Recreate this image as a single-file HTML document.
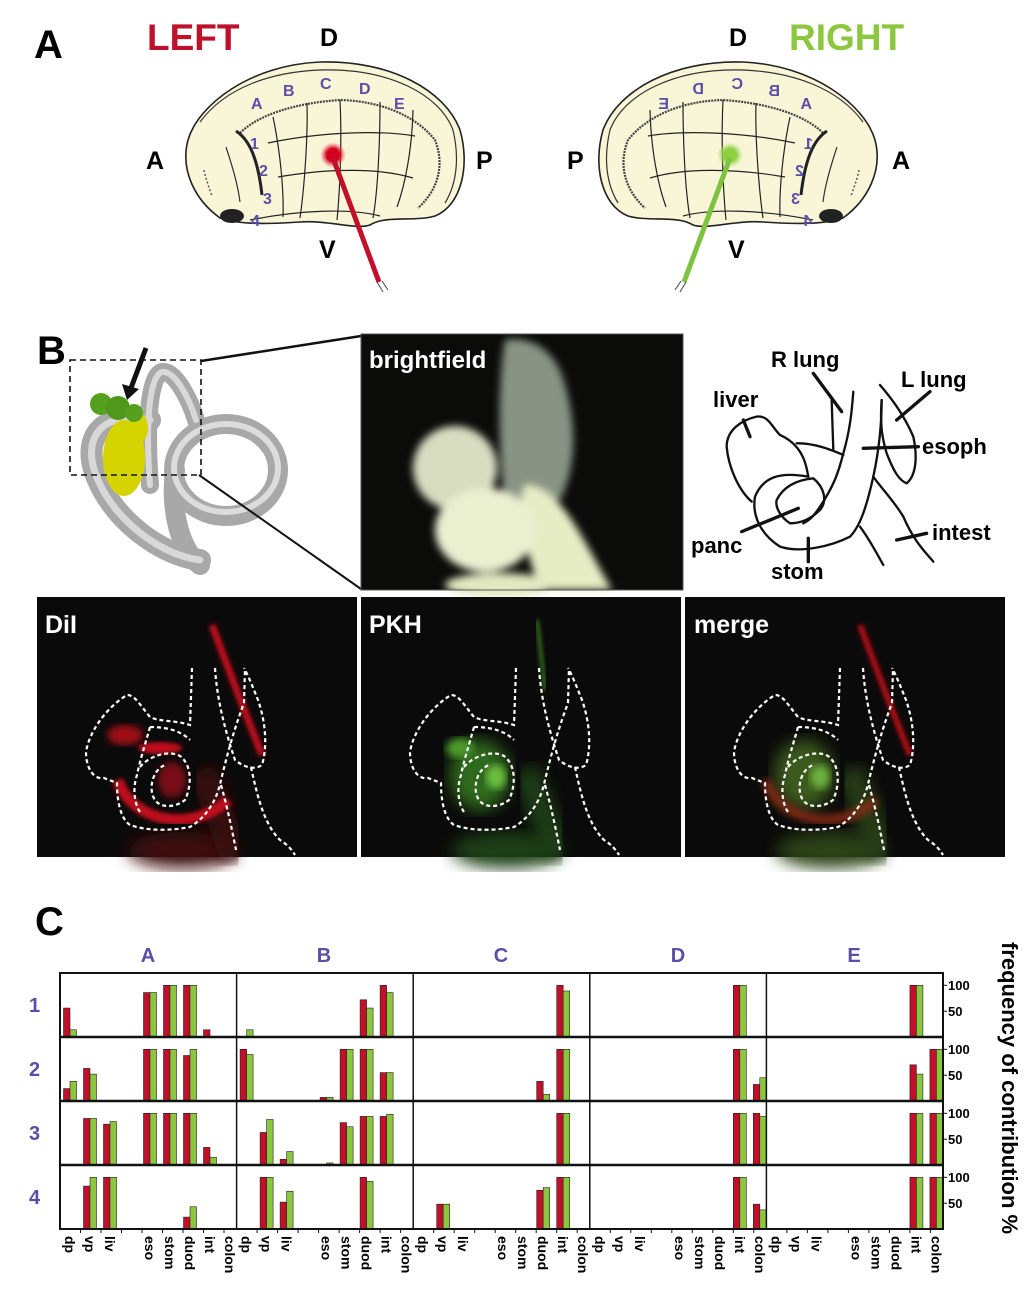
<!DOCTYPE html>
<html><head><meta charset="utf-8"><style>
html,body{margin:0;padding:0;background:#fff}
svg{display:block}
text{font-family:"Liberation Sans",Arial,sans-serif;font-weight:bold}
</style></head><body>
<svg id="s" width="1027" height="1293" viewBox="0 0 1027 1293" xmlns="http://www.w3.org/2000/svg">
<defs>
<filter id="b2"><feGaussianBlur stdDeviation="2"/></filter>
<filter id="b4"><feGaussianBlur stdDeviation="4"/></filter>
<filter id="b8"><feGaussianBlur stdDeviation="8"/></filter>
<radialGradient id="rd"><stop offset="0.5" stop-color="#d4001c"/><stop offset="1" stop-color="#f06070" stop-opacity="0"/></radialGradient>
<radialGradient id="gd"><stop offset="0.5" stop-color="#8fd040"/><stop offset="1" stop-color="#b8e080" stop-opacity="0"/></radialGradient>
<g id="embryo">
 <path d="M220,218 C195,200 180,170 188,140 C198,105 250,65 320,62 C390,60 445,90 460,130 C470,165 462,205 435,216 C415,222 385,215 370,225 C355,230 330,220 300,222 C270,224 240,225 220,218 Z" fill="#f9f6d8" stroke="#222" stroke-width="1.6"/>
 <path d="M200,122 C225,88 270,72 320,70 C390,68 440,95 453,130 C460,160 456,185 445,203" fill="none" stroke="#333" stroke-width="1.2"/>
 <path d="M240,133 C258,115 295,103 340,100 C380,101 415,115 435,140 C445,165 438,190 418,208" fill="none" stroke="#444" stroke-width="2.2" stroke-dasharray="2 1"/>
 <path d="M236,131 C250,140 258,160 262,195" fill="none" stroke="#222" stroke-width="3"/>
 <path d="M226,147 C232,165 238,185 240,202" fill="none" stroke="#333" stroke-width="1.2"/>
 <path d="M204,170 C206,180 210,190 212,196" fill="none" stroke="#555" stroke-width="1.5" stroke-dasharray="2 2"/>
 <ellipse cx="232" cy="216" rx="12" ry="7" fill="#222"/>
 <g fill="none" stroke="#222" stroke-width="1.2">
  <path d="M268,143 C320,132 380,130 415,136"/>
  <path d="M278,177 C330,168 380,168 413,178"/>
  <path d="M250,220 C300,210 350,208 380,216"/>
  <path d="M273,117 C280,150 284,190 283,217"/>
  <path d="M307,103 C308,140 304,190 300,218"/>
  <path d="M340,100 C342,140 340,190 337,220"/>
  <path d="M380,102 C380,140 378,190 373,218"/>
  <path d="M413,110 C412,150 405,185 397,207"/>
 </g>
 <g fill="#5b4ea6" font-size="16">
  <text x="251" y="109">A</text><text x="283" y="96">B</text><text x="320" y="89">C</text><text x="359" y="94">D</text><text x="394" y="109">E</text>
  <text x="250" y="149">1</text><text x="259" y="176">2</text><text x="263" y="204">3</text><text x="251" y="226">4</text>
 </g>
</g>
<g id="outl" fill="none" stroke="#fff" stroke-width="2.2" stroke-dasharray="4 3">
 <path d="M192,668 L190,725 C175,720 160,722 150,717 C140,705 135,695 127,695 C110,705 90,728 86,752 C86,770 95,780 104,778 L117,783 C117,800 120,818 130,825 C150,832 175,830 190,827 C210,815 218,795 221,780 C226,760 232,735 244,703 L245,668"/>
 <path d="M140,767 C150,755 170,750 180,756 C192,765 192,785 185,800 C175,808 160,808 155,800 C148,790 152,770 165,765"/>
 <path d="M150,727 C165,727 180,730 190,740 M150,727 C145,745 140,760 137,775 C132,790 135,805 140,812"/>
 <path d="M215,668 C217,700 225,730 235,760 C245,768 255,770 262,765 C268,745 265,720 258,700 C252,685 248,675 244,668"/>
 <path d="M221,785 C228,810 232,830 236,850 M251,767 C258,800 265,825 280,840 C288,845 292,850 295,855"/>
</g>
</defs>

<!-- Panel A -->
<text x="34" y="58" font-size="40">A</text>
<text x="147" y="50" font-size="37" fill="#c0102a">LEFT</text>
<text x="320" y="46" font-size="25">D</text>
<text x="146" y="169" font-size="25">A</text>
<text x="476" y="169" font-size="25">P</text>
<text x="319" y="258" font-size="25">V</text>
<use href="#embryo"/>
<circle cx="333" cy="155" r="13" fill="url(#rd)"/>
<line x1="333" y1="158" x2="379" y2="282" stroke="#c0102a" stroke-width="5"/>
<line x1="377" y1="282" x2="383" y2="292" stroke="#444" stroke-width="1"/><line x1="382" y1="281" x2="388" y2="290" stroke="#444" stroke-width="1"/>

<text x="729" y="46" font-size="25">D</text>
<text x="789" y="50" font-size="37" fill="#8dc63f">RIGHT</text>
<text x="567" y="169" font-size="25">P</text>
<text x="892" y="169" font-size="25">A</text>
<text x="728" y="258" font-size="25">V</text>
<g transform="translate(1063,0) scale(-1,1)"><use href="#embryo"/></g>
<circle cx="730" cy="155" r="13" fill="url(#gd)"/>
<line x1="730" y1="158" x2="684" y2="282" stroke="#7ec242" stroke-width="5"/>
<line x1="686" y1="282" x2="680" y2="292" stroke="#444" stroke-width="1"/><line x1="681" y1="281" x2="675" y2="290" stroke="#444" stroke-width="1"/>

<!-- Panel B -->
<text x="37" y="364" font-size="40">B</text>
<g fill="none" stroke-linecap="round">
 <path d="M150,420 C100,410 80,440 98,480 C115,520 160,555 200,560" stroke="#a8a8a8" stroke-width="22"/>
 <path d="M150,485 C145,420 150,375 162,372 C175,370 190,400 196,420" stroke="#a8a8a8" stroke-width="18"/>
 <ellipse cx="226" cy="470" rx="52" ry="46" stroke="#a8a8a8" stroke-width="20"/>
 <path d="M175,470 C170,510 180,550 200,565" stroke="#a8a8a8" stroke-width="20"/>
 <path d="M150,420 C100,410 80,440 98,480 C115,520 160,555 200,560" stroke="#d8d8d8" stroke-width="7"/>
 <ellipse cx="226" cy="468" rx="52" ry="44" stroke="#dcdcdc" stroke-width="6"/>
 <path d="M150,485 C145,420 150,375 162,372 C175,370 190,400 196,420" stroke="#d8d8d8" stroke-width="6"/>
</g>
<ellipse cx="124" cy="458" rx="21" ry="38" fill="#d6d400"/>
<ellipse cx="138" cy="428" rx="10" ry="16" fill="#d6d400"/>
<circle cx="101" cy="404" r="11" fill="#56a020"/><circle cx="118" cy="408" r="12" fill="#4f981c"/><circle cx="134" cy="413" r="9" fill="#56a020"/>
<rect x="70" y="360" width="131" height="115" fill="none" stroke="#111" stroke-width="1.6" stroke-dasharray="6 4"/>
<path d="M146,348 L131,388" stroke="#111" stroke-width="5"/>
<path d="M122,384 L127,400 L139,389 Z" fill="#111"/>
<line x1="201" y1="361" x2="361" y2="336" stroke="#111" stroke-width="2.5"/>
<line x1="199" y1="475" x2="361" y2="589" stroke="#111" stroke-width="2"/>

<!-- brightfield -->
<rect x="361" y="334" width="322" height="256" fill="#0b0c0a"/>
<g filter="url(#b4)">
 <path d="M505,340 C525,336 555,345 565,385 C578,430 575,470 560,500 L505,505 C498,450 498,380 505,340 Z" fill="#9eaa9a" opacity="0.85"/>
 <ellipse cx="455" cy="468" rx="42" ry="42" fill="#d8dcc0"/>
 <path d="M525,485 C560,485 580,535 612,590 L540,590 C525,550 515,505 525,485 Z" fill="#e6ecc4"/>
 <ellipse cx="485" cy="530" rx="50" ry="42" fill="#eaefd0"/>
 <ellipse cx="500" cy="585" rx="55" ry="12" fill="#e2e8c0"/>
</g>
<rect x="361" y="334" width="322" height="256" fill="none" stroke="#555" stroke-width="1"/>
<text x="369" y="368" font-size="24" fill="#fff">brightfield</text>

<!-- sketch -->
<g transform="translate(680,320) scale(0.3333)" fill="none" stroke="#111" stroke-width="7" stroke-linejoin="round" stroke-linecap="round">
 <path d="M215,545 C175,510 145,440 140,380 C140,330 185,300 230,290 C265,285 275,320 300,345 C345,365 370,400 380,445 L385,470"/>
 <path d="M350,370 C400,368 455,390 490,405"/>
 <path d="M455,240 L460,390"/>
 <path d="M520,215 C515,280 510,330 490,400 C475,460 460,500 420,560 C400,590 390,600 370,610"/>
 <path d="M385,470 C300,455 250,470 225,530 C215,590 245,645 300,680 C360,700 450,680 510,650 C540,620 560,560 580,470 C595,400 605,320 605,240"/>
 <path d="M290,540 C310,500 350,480 400,475 C430,500 445,540 420,570 C400,590 370,610 330,610 C300,590 285,560 290,540 Z"/>
 <path d="M600,195 C630,230 670,280 700,350 C715,420 705,470 680,490 C655,480 640,450 620,400 C605,350 600,310 605,240"/>
 <path d="M580,470 C600,500 640,540 670,590 C700,660 730,690 760,725"/>
 <path d="M540,620 C570,660 590,700 610,735"/>
 <g stroke-width="10">
  <path d="M400,160 L485,275"/><path d="M750,215 L650,300"/><path d="M190,300 L210,350"/>
  <path d="M550,385 L715,380"/><path d="M650,660 L740,640"/><path d="M185,635 L355,565"/><path d="M385,655 L385,725"/>
 </g>
</g>
<g font-size="22">
 <text x="771" y="367">R lung</text><text x="901" y="387">L lung</text><text x="713" y="407">liver</text>
 <text x="922" y="454">esoph</text><text x="932" y="540">intest</text><text x="691" y="553">panc</text><text x="771" y="579">stom</text>
</g>

<!-- fluorescence -->
<rect x="37" y="597" width="320" height="260" fill="#0a0a0a"/>
<rect x="361" y="597" width="320" height="260" fill="#0a0a0a"/>
<rect x="685" y="597" width="320" height="260" fill="#0a0a0a"/>
<g>
 <ellipse cx="183" cy="850" rx="55" ry="18" fill="#3c0c0c" filter="url(#b8)"/>
 <path d="M200,770 C215,800 225,830 235,857" stroke="#3a0d0d" stroke-width="28" fill="none" filter="url(#b8)"/>
 <path d="M118,780 C130,820 190,835 228,800" stroke="#c0101e" stroke-width="11" fill="none" filter="url(#b2)"/>
 <path d="M212,625 C225,660 240,700 262,755" stroke="#c0101e" stroke-width="7" fill="none" filter="url(#b2)"/>
 <ellipse cx="125" cy="735" rx="18" ry="10" fill="#a00c18" filter="url(#b4)"/>
 <ellipse cx="172" cy="780" rx="14" ry="18" fill="#7a0a14" filter="url(#b4)"/>
 <ellipse cx="160" cy="748" rx="22" ry="6" fill="#c0101e" filter="url(#b2)"/>
</g>
<g>
 <ellipse cx="507" cy="850" rx="55" ry="18" fill="#1f4012" filter="url(#b8)"/>
 <path d="M524,770 C539,800 549,830 559,857" stroke="#1e3c14" stroke-width="28" fill="none" filter="url(#b8)"/>
 <ellipse cx="480" cy="775" rx="30" ry="35" fill="#2f6a1c" filter="url(#b8)"/>
 <ellipse cx="496" cy="777" rx="10" ry="12" fill="#6cc040" filter="url(#b4)"/>
 <ellipse cx="460" cy="748" rx="14" ry="10" fill="#4c9a2c" filter="url(#b4)"/>
 <path d="M537,620 L545,690" stroke="#3c8a20" stroke-width="3" fill="none" filter="url(#b2)"/>
</g>
<g>
 <ellipse cx="831" cy="850" rx="55" ry="18" fill="#2a4212" filter="url(#b8)"/>
 <path d="M848,770 C863,800 873,830 883,857" stroke="#263c14" stroke-width="28" fill="none" filter="url(#b8)"/>
 <ellipse cx="804" cy="775" rx="30" ry="35" fill="#3a5a1c" filter="url(#b8)"/>
 <path d="M766,780 C778,820 838,835 876,800" stroke="#8a2a14" stroke-width="9" fill="none" filter="url(#b4)"/>
 <ellipse cx="820" cy="777" rx="10" ry="12" fill="#6cb040" filter="url(#b4)"/>
 <path d="M860,625 C873,660 888,700 910,755" stroke="#b01018" stroke-width="6" fill="none" filter="url(#b2)"/>
</g>
<use href="#outl"/>
<use href="#outl" x="324"/>
<use href="#outl" x="648"/>
<g font-size="25" fill="#fff"><text x="45" y="633">DiI</text><text x="369" y="633">PKH</text><text x="694" y="633">merge</text></g>

<!-- Panel C -->
<text x="35" y="935" font-size="40">C</text>
<g fill="#5b4ea6" font-size="20">
 <text x="148" y="962" text-anchor="middle">A</text><text x="324" y="962" text-anchor="middle">B</text>
 <text x="501" y="962" text-anchor="middle">C</text><text x="678" y="962" text-anchor="middle">D</text><text x="854" y="962" text-anchor="middle">E</text>
 <text x="29" y="1012">1</text><text x="29" y="1076">2</text><text x="29" y="1140">3</text><text x="29" y="1204">4</text>
</g>
<g id="bars"></g>
<rect x="60" y="973" width="883" height="256" fill="none" stroke="#111" stroke-width="2"/>
<g stroke="#111">
 <line x1="60" y1="1037" x2="943" y2="1037" stroke-width="2.5"/><line x1="60" y1="1101" x2="943" y2="1101" stroke-width="2.5"/><line x1="60" y1="1165" x2="943" y2="1165" stroke-width="2.5"/>
 <line x1="236.6" y1="973" x2="236.6" y2="1229" stroke-width="1.5"/><line x1="413.2" y1="973" x2="413.2" y2="1229" stroke-width="1.5"/>
 <line x1="589.8" y1="973" x2="589.8" y2="1229" stroke-width="1.5"/><line x1="766.4" y1="973" x2="766.4" y2="1229" stroke-width="1.5"/>
</g>
<g id="ticks" stroke="#111" stroke-width="1"></g>
<g font-size="13" font-weight="normal">
 <text x="948" y="990">100</text><text x="948" y="1016">50</text>
 <text x="948" y="1054">100</text><text x="948" y="1080">50</text>
 <text x="948" y="1118">100</text><text x="948" y="1144">50</text>
 <text x="948" y="1182">100</text><text x="948" y="1208">50</text>
</g>
<g id="cats" font-size="14" style="font-weight:normal">
 <g transform="translate(60,0)"><text transform="translate(5,1236) rotate(90)">dp</text><text transform="translate(25,1236) rotate(90)">vp</text><text transform="translate(45,1236) rotate(90)">liv</text><text transform="translate(85,1236) rotate(90)">eso</text><text transform="translate(105,1236) rotate(90)">stom</text><text transform="translate(125,1236) rotate(90)">duod</text><text transform="translate(145,1236) rotate(90)">int</text><text transform="translate(165,1236) rotate(90)">colon</text></g>
 <g transform="translate(236.6,0)"><text transform="translate(5,1236) rotate(90)">dp</text><text transform="translate(25,1236) rotate(90)">vp</text><text transform="translate(45,1236) rotate(90)">liv</text><text transform="translate(85,1236) rotate(90)">eso</text><text transform="translate(105,1236) rotate(90)">stom</text><text transform="translate(125,1236) rotate(90)">duod</text><text transform="translate(145,1236) rotate(90)">int</text><text transform="translate(165,1236) rotate(90)">colon</text></g>
 <g transform="translate(413.2,0)"><text transform="translate(5,1236) rotate(90)">dp</text><text transform="translate(25,1236) rotate(90)">vp</text><text transform="translate(45,1236) rotate(90)">liv</text><text transform="translate(85,1236) rotate(90)">eso</text><text transform="translate(105,1236) rotate(90)">stom</text><text transform="translate(125,1236) rotate(90)">duod</text><text transform="translate(145,1236) rotate(90)">int</text><text transform="translate(165,1236) rotate(90)">colon</text></g>
 <g transform="translate(589.8,0)"><text transform="translate(5,1236) rotate(90)">dp</text><text transform="translate(25,1236) rotate(90)">vp</text><text transform="translate(45,1236) rotate(90)">liv</text><text transform="translate(85,1236) rotate(90)">eso</text><text transform="translate(105,1236) rotate(90)">stom</text><text transform="translate(125,1236) rotate(90)">duod</text><text transform="translate(145,1236) rotate(90)">int</text><text transform="translate(165,1236) rotate(90)">colon</text></g>
 <g transform="translate(766.4,0)"><text transform="translate(5,1236) rotate(90)">dp</text><text transform="translate(25,1236) rotate(90)">vp</text><text transform="translate(45,1236) rotate(90)">liv</text><text transform="translate(85,1236) rotate(90)">eso</text><text transform="translate(105,1236) rotate(90)">stom</text><text transform="translate(125,1236) rotate(90)">duod</text><text transform="translate(145,1236) rotate(90)">int</text><text transform="translate(165,1236) rotate(90)">colon</text></g>
</g>
<text transform="translate(1002,942) rotate(90)" font-size="22">frequency of contribution %</text>
</svg>
<script>
(function(){
var NS="http://www.w3.org/2000/svg";
var P=[60,236.6,413.2,589.8,766.4],C=[10,30,50,90,110,130,150,170],B=[1037,1101,1165,1229];
var D=[
[[[0,56,14],[3,86,86],[4,100,100],[5,100,100],[6,14,0]],[[0,0,14],[5,72,56],[6,100,86]],[[6,100,89]],[[6,100,100]],[[6,100,100]]],
[[[0,24,38],[1,63,52],[3,100,100],[4,100,100],[5,88,100]],[[0,100,90],[3,7,7],[4,100,100],[5,100,100],[6,55,55]],[[5,38,13],[6,100,100]],[[6,100,100],[7,32,45]],[[6,70,52],[7,100,100]]],
[[[1,90,90],[2,79,84],[3,100,100],[4,100,100],[5,100,100],[6,34,15]],[[1,63,88],[2,11,26],[3,0,4],[4,82,74],[5,94,94],[6,94,98]],[[6,100,100]],[[6,100,100],[7,100,94]],[[6,100,100],[7,100,100]]],
[[[1,83,100],[2,100,100],[5,23,43]],[[1,100,100],[2,52,73],[5,100,92]],[[1,48,48],[5,75,80],[6,100,100]],[[6,100,100],[7,48,37]],[[6,100,100],[7,100,100]]]
];
var g=document.getElementById("bars");
function r(x,y,w,h,f){if(h<=0)return;var e=document.createElementNS(NS,"rect");e.setAttribute("x",x);e.setAttribute("y",y);e.setAttribute("width",w);e.setAttribute("height",h);e.setAttribute("fill",f);e.setAttribute("stroke","#222");e.setAttribute("stroke-width","0.6");g.appendChild(e);}
for(var i=0;i<4;i++)for(var j=0;j<5;j++)D[i][j].forEach(function(b){var x=P[j]+C[b[0]];var hr=b[1]*0.517,hg=b[2]*0.517;r(x-6.5,B[i]-hr,6.5,hr,"#c0102a");r(x,B[i]-hg,6.5,hg,"#8cc63f");});
var t=document.getElementById("ticks");
function l(x1,y1,x2,y2){var e=document.createElementNS(NS,"line");e.setAttribute("x1",x1);e.setAttribute("y1",y1);e.setAttribute("x2",x2);e.setAttribute("y2",y2);t.appendChild(e);}
for(var j=0;j<5;j++)for(var k=1;k<=8;k++){l(P[j]+20.5*k,1229,P[j]+20.5*k,1233);}
for(var i=0;i<4;i++){l(943,B[i]-51.7,947,B[i]-51.7);l(943,B[i]-25.8,947,B[i]-25.8);}
})();
</script>
</body></html>
